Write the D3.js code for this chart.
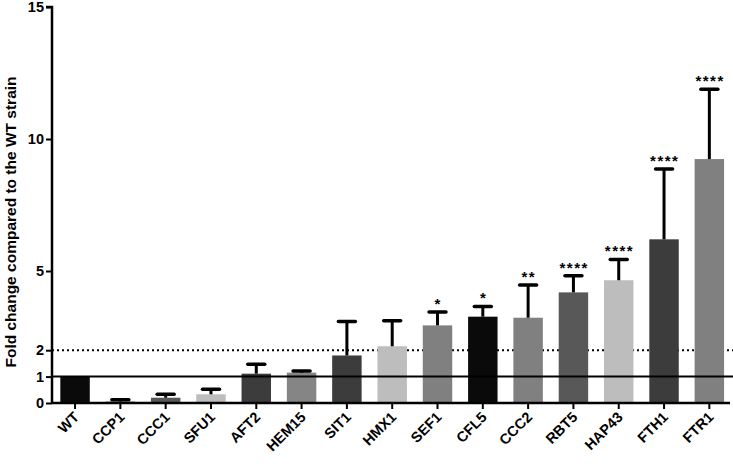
<!DOCTYPE html>
<html>
<head>
<meta charset="utf-8">
<script src="https://cdn.jsdelivr.net/npm/d3@7"></script>
<style>
  html, body { margin: 0; padding: 0; background: #fff; }
  svg { display: block; }
  text { font-family: "Liberation Sans", Arial, sans-serif; font-weight: bold; fill: #000; }
</style>
</head>
<body>
<svg id="chart" width="733" height="464"></svg>
<script>
const categories = ["WT","CCP1","CCC1","SFU1","AFT2","HEM15","SIT1","HMX1","SEF1","CFL5","CCC2","RBT5","HAP43","FTH1","FTR1"];
const values     = [1.00, 0.06, 0.20, 0.33, 1.11, 1.15, 1.80, 2.15, 2.94, 3.27, 3.23, 4.19, 4.65, 6.20, 9.24];
const errorTops  = [null, 0.12, 0.33, 0.52, 1.47, 1.21, 3.09, 3.12, 3.45, 3.66, 4.47, 4.82, 5.44, 8.86, 11.88];
const significance = ["", "", "", "", "", "", "", "", "*", "*", "**", "****", "****", "****", "****"];
const barColors  = ["#0a0a0a","#8a8a8a","#585858","#bdbdbd","#3c3c3c","#858585","#3c3c3c","#bdbdbd","#808080","#0a0a0a","#808080","#585858","#bdbdbd","#3c3c3c","#808080"];
const yTicks = [0, 1, 2, 5, 10, 15];
const refSolid = 1;
const refDotted = 2;
const yTitle = "Fold change compared to the WT strain";

const svg = d3.select("#chart");
const W = 733;
const axisX = 52;
const x = d3.scaleBand().domain(categories).range([axisX + 0.4, 732]).paddingInner(0.35).paddingOuter(0.175);
const y = d3.scaleLinear().domain([0, 15]).range([403, 7]);

// Dotted reference line at 2
svg.append("line").attr("x1", axisX).attr("x2", W).attr("y1", y(refDotted)).attr("y2", y(refDotted))
  .attr("stroke", "#000").attr("stroke-width", 2).attr("stroke-dasharray", "2,3");

// Bars
svg.selectAll("rect.bar").data(categories).join("rect")
  .attr("class", "bar")
  .attr("x", d => x(d))
  .attr("width", x.bandwidth())
  .attr("y", (d, i) => y(values[i]))
  .attr("height", (d, i) => y(0) - y(values[i]))
  .attr("fill", (d, i) => barColors[i]);

// Solid reference line at 1
svg.append("line").attr("x1", axisX).attr("x2", W).attr("y1", y(refSolid)).attr("y2", y(refSolid))
  .attr("stroke", "#000").attr("stroke-width", 2);

// Error bars and significance stars
const eg = svg.append("g");
categories.forEach((c, i) => {
  if (errorTops[i] == null) return;
  const cx = x(c) + x.bandwidth() / 2;
  eg.append("line").attr("x1", cx).attr("x2", cx)
    .attr("y1", y(values[i])).attr("y2", y(errorTops[i]))
    .attr("stroke", "#000").attr("stroke-width", 3);
  eg.append("line").attr("x1", cx - 8.5).attr("x2", cx + 8.5)
    .attr("y1", y(errorTops[i])).attr("y2", y(errorTops[i]))
    .attr("stroke", "#000").attr("stroke-width", 3.5).attr("stroke-linecap", "round");
  if (significance[i]) {
    eg.append("text").attr("x", cx + 0.75).attr("y", y(errorTops[i]) - 3)
      .attr("text-anchor", "middle").attr("font-size", 15)
      .style("letter-spacing", "1.5px")
      .text(significance[i]);
  }
});

// Y axis
const yAxis = d3.axisLeft(y).tickValues(yTicks).tickSize(6).tickFormat("");
const gy = svg.append("g").attr("transform", `translate(${axisX},0)`).call(yAxis);
gy.select(".domain").attr("stroke-width", 2.5).attr("d", `M-6,${y(15)}H0V${y(0)}`);
gy.selectAll(".tick line").attr("stroke-width", 2);
svg.append("g").selectAll("text").data(yTicks).join("text")
  .attr("x", axisX - 8).attr("y", d => y(d)).attr("dy", "0.36em")
  .attr("text-anchor", "end").attr("font-size", 14.5)
  .text(d => d);

// X axis
const xAxis = d3.axisBottom(x).tickSize(6).tickFormat("");
const gx = svg.append("g").attr("transform", `translate(0,${y(0)})`).call(xAxis);
gx.select(".domain").attr("stroke-width", 2.5).attr("d", `M${axisX},0H730`);
gx.selectAll(".tick line").attr("stroke-width", 2);

// X labels rotated -45°
svg.append("g").selectAll("text").data(categories).join("text")
  .attr("text-anchor", "end").attr("font-size", 14.5)
  .attr("transform", d => `translate(${x(d) + x.bandwidth() / 2 + 5},${y(0) + 15}) rotate(-45)`)
  .text(d => d);

// Y title
svg.append("text")
  .attr("transform", `translate(16,${(y(0) + 35) / 2 + 3}) rotate(-90)`)
  .attr("text-anchor", "middle").attr("font-size", 15.5)
  .text(yTitle);
</script>
</body>
</html>
